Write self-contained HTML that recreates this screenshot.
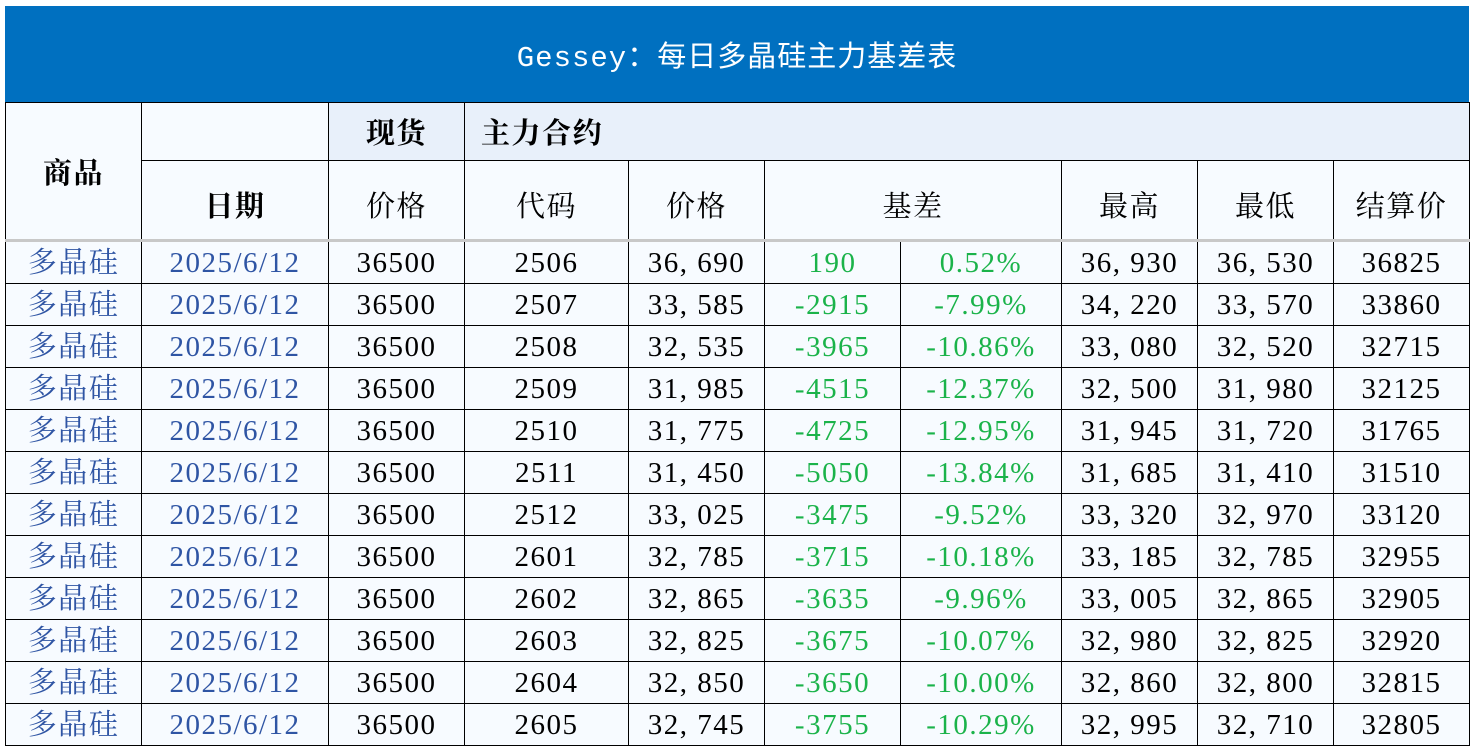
<!DOCTYPE html>
<html><head><meta charset="utf-8"><style>
body{margin:0;width:1472px;height:746px;background:#fff;overflow:hidden;position:relative;font-family:"Liberation Serif","Noto Serif CJK SC",serif;}
.title{position:absolute;left:5px;top:6px;width:1464px;height:96px;background:#0070c0;color:#fff;font-family:"Liberation Mono","Noto Sans CJK SC",monospace;font-size:29px;line-height:106px;text-align:center;letter-spacing:1px;}
table{position:absolute;left:5px;top:102px;border-collapse:collapse;table-layout:fixed;width:1465px;}
td{border:1px solid #000;background:#f7fbff;text-align:center;padding:0;font-size:29px;color:#000;white-space:nowrap;overflow:hidden;letter-spacing:1.5px;}
.h1 td{height:57px;font-weight:bold;}
.h2 td{height:70px;padding-top:8px;}
.h2 td.b{font-weight:bold;}
.blue{background:#e8f0fa!important;}
.h2 td{border-bottom:3px solid #c8c8c8;}
.d td{height:39px;line-height:39px;padding-top:2px;}
.p{color:#2f55a4;}
.g{color:#1bb34a;}
</style></head><body>
<div class="title">Gessey：每日多晶硅主力基差表</div>
<table>
<colgroup><col style="width:136px"><col style="width:187px"><col style="width:136px"><col style="width:164px"><col style="width:136px"><col style="width:136px"><col style="width:161px"><col style="width:136px"><col style="width:136px"><col style="width:136px"></colgroup>
<tr class="h1"><td rowspan="2" style="font-weight:bold;border-bottom:3px solid #c8c8c8">商品</td><td></td><td class="blue">现货</td><td class="blue" colspan="7" style="text-align:left;padding-left:16px">主力合约</td></tr>
<tr class="h2"><td class="b">日期</td><td>价格</td><td>代码</td><td>价格</td><td colspan="2">基差</td><td>最高</td><td>最低</td><td>结算价</td></tr>
<tr class="d"><td class="p">多晶硅</td><td class="p">2025/6/12</td><td>36500</td><td>2506</td><td>36, 690</td><td class="g">190</td><td class="g">0.52%</td><td>36, 930</td><td>36, 530</td><td>36825</td></tr>
<tr class="d"><td class="p">多晶硅</td><td class="p">2025/6/12</td><td>36500</td><td>2507</td><td>33, 585</td><td class="g">-2915</td><td class="g">-7.99%</td><td>34, 220</td><td>33, 570</td><td>33860</td></tr>
<tr class="d"><td class="p">多晶硅</td><td class="p">2025/6/12</td><td>36500</td><td>2508</td><td>32, 535</td><td class="g">-3965</td><td class="g">-10.86%</td><td>33, 080</td><td>32, 520</td><td>32715</td></tr>
<tr class="d"><td class="p">多晶硅</td><td class="p">2025/6/12</td><td>36500</td><td>2509</td><td>31, 985</td><td class="g">-4515</td><td class="g">-12.37%</td><td>32, 500</td><td>31, 980</td><td>32125</td></tr>
<tr class="d"><td class="p">多晶硅</td><td class="p">2025/6/12</td><td>36500</td><td>2510</td><td>31, 775</td><td class="g">-4725</td><td class="g">-12.95%</td><td>31, 945</td><td>31, 720</td><td>31765</td></tr>
<tr class="d"><td class="p">多晶硅</td><td class="p">2025/6/12</td><td>36500</td><td>2511</td><td>31, 450</td><td class="g">-5050</td><td class="g">-13.84%</td><td>31, 685</td><td>31, 410</td><td>31510</td></tr>
<tr class="d"><td class="p">多晶硅</td><td class="p">2025/6/12</td><td>36500</td><td>2512</td><td>33, 025</td><td class="g">-3475</td><td class="g">-9.52%</td><td>33, 320</td><td>32, 970</td><td>33120</td></tr>
<tr class="d"><td class="p">多晶硅</td><td class="p">2025/6/12</td><td>36500</td><td>2601</td><td>32, 785</td><td class="g">-3715</td><td class="g">-10.18%</td><td>33, 185</td><td>32, 785</td><td>32955</td></tr>
<tr class="d"><td class="p">多晶硅</td><td class="p">2025/6/12</td><td>36500</td><td>2602</td><td>32, 865</td><td class="g">-3635</td><td class="g">-9.96%</td><td>33, 005</td><td>32, 865</td><td>32905</td></tr>
<tr class="d"><td class="p">多晶硅</td><td class="p">2025/6/12</td><td>36500</td><td>2603</td><td>32, 825</td><td class="g">-3675</td><td class="g">-10.07%</td><td>32, 980</td><td>32, 825</td><td>32920</td></tr>
<tr class="d"><td class="p">多晶硅</td><td class="p">2025/6/12</td><td>36500</td><td>2604</td><td>32, 850</td><td class="g">-3650</td><td class="g">-10.00%</td><td>32, 860</td><td>32, 800</td><td>32815</td></tr>
<tr class="d"><td class="p">多晶硅</td><td class="p">2025/6/12</td><td>36500</td><td>2605</td><td>32, 745</td><td class="g">-3755</td><td class="g">-10.29%</td><td>32, 995</td><td>32, 710</td><td>32805</td></tr>
</table>
</body></html>
